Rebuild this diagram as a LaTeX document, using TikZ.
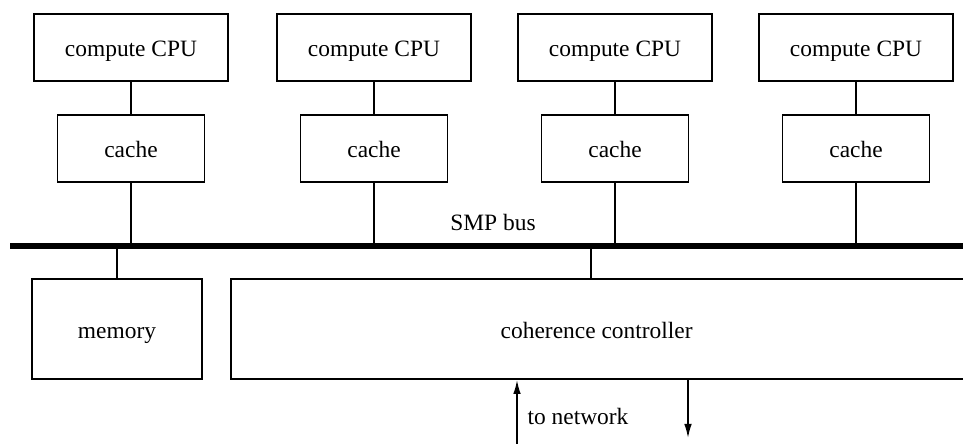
\documentclass[tikz,border=0pt]{standalone}
\usepackage{fontspec}
\setmainfont{Liberation Serif}
\usepackage{tikz}
\usetikzlibrary{arrows,arrows.meta}

\begin{document}
\begin{tikzpicture}[line width=1.4pt,
		unit/.style={draw, line width=1.6pt, minimum height=2.01cm, inner sep=0pt, text height=15.5pt, text depth=0pt, font=\fontsize{20}{24}\selectfont},
		cpu/.style={unit, minimum width=5.82cm},
		cachebox/.style={unit, minimum width=4.41cm},
		label/.style={font=\fontsize{20}{24}\selectfont},
		>={Latex[length=12pt,width=6.5pt]}]
		\useasboundingbox (0,0) rectangle (28.89,-13.32);

		% processors and their caches
		\node[cpu] (cpu1) at (3.93,-1.425) {compute CPU};
		\node[cpu] (cpu2) at (11.22,-1.425) {compute CPU};
		\node[cpu] (cpu3) at (18.45,-1.425) {compute CPU};
		\node[cpu] (cpu4) at (25.68,-1.425) {compute CPU};

		\node[cachebox] (cache1) at (3.93,-4.455) {cache};
		\node[cachebox] (cache2) at (11.22,-4.455) {cache};
		\node[cachebox] (cache3) at (18.45,-4.455) {cache};
		\node[cachebox] (cache4) at (25.68,-4.455) {cache};

		\draw (cpu1) -- (cache1);
		\draw (cpu2) -- (cache2);
		\draw (cpu3) -- (cache3);
		\draw (cpu4) -- (cache4);

		% the bus
		\coordinate (busL) at (0.3,-7.38);
		\coordinate (busR) at (29.5,-7.38);
		\draw[line width=5.5pt] (busL) -- (busR);
		\node[label] (smp) at (14.79,-6.66) {SMP bus};

		\draw (cache1.south) -- (cache1.south |- busL);
		\draw (cache2.south) -- (cache2.south |- busL);
		\draw (cache3.south) -- (cache3.south |- busL);
		\draw (cache4.south) -- (cache4.south |- busL);

		% memory and coherence controller
		\node[unit, minimum width=5.1cm, minimum height=3cm] (mem) at (3.51,-9.87) {memory};
		\node[unit, minimum width=22.02cm, minimum height=3cm] (ctrl) at (17.94,-9.87) {};
		\node[label, text height=15.5pt, text depth=0pt] (ctrltext) at (17.9,-9.87) {coherence controller};

		\draw (mem.north) -- (mem.north |- busL);
		\coordinate (ctrltap) at (17.73,-7.38);
		\draw (ctrltap) -- (ctrltap |- ctrl.north);

		% link to the network
		\coordinate (netin) at (15.51,-13.6);
		\coordinate (netout) at (20.64,-13.14);
		\draw[->] (netin) -- (netin |- ctrl.south);
		\draw[->] (netout |- ctrl.south) -- (netout);
		\node[label] (net) at (17.34,-12.48) {to network};
\end{tikzpicture}
\end{document}
